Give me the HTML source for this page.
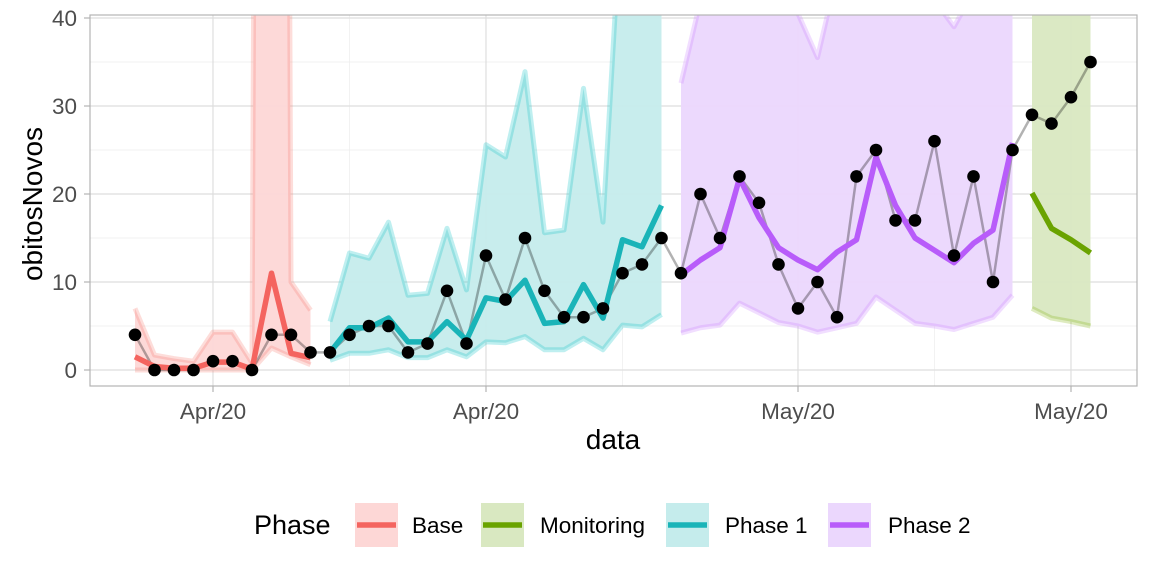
<!DOCTYPE html>
<html><head><meta charset="utf-8"><style>
body{margin:0;background:#fff;font-family:"Liberation Sans",sans-serif}
svg text{font-family:"Liberation Sans",sans-serif}
</style></head><body>
<svg id="c" width="1152" height="576" xmlns="http://www.w3.org/2000/svg">
<defs><clipPath id="clip"><rect x="90" y="15" width="1047" height="371"/></clipPath></defs>
<rect x="0" y="0" width="1152" height="576" fill="#fff"/>
<g id="grid"></g>
<g id="marks" clip-path="url(#clip)"></g>
<rect x="90" y="15" width="1047" height="371" fill="none" stroke="#b3b3b3" stroke-width="1.2"/>
<g id="axes"></g>
<text x="613" y="449" font-size="28" text-anchor="middle" fill="#000">data</text>
<text transform="translate(42,204) rotate(-90)" font-size="28" text-anchor="middle" fill="#000">obitosNovos</text>
<g id="legend">
<text x="254" y="534" font-size="27">Phase</text>
</g>
</svg>
<script>
const obs=[4,0,0,0,1,1,0,4,4,2,2,4,5,5,2,3,9,3,13,8,15,9,6,6,7,11,12,15,11,20,15,22,19,12,7,10,6,22,25,17,17,26,13,22,10,25,29,28,31,35];
const phaseNames=["Base","Monitoring","Phase 1","Phase 2"];
const phaseStart=[0,46,10,28];
const fitBase=[1.5,0.4,0.2,0.2,0.9,0.9,0.1,11,1.9,1.4];
const upBase=[7,1.7,1.3,1.0,4.3,4.3,0.8,500,10,6.8];
const loBase=[0,0,0,0,0,0,0,2.5,1.5,0.6];
const fitP1=[2.0,4.8,4.8,5.9,3.2,3.2,5.5,3.4,8.2,7.8,10.2,5.3,5.5,9.7,5.9,14.8,14.0,18.7];
const upP1=[5.5,13.3,12.7,16.8,8.5,8.7,16.1,9.1,25.6,24.2,33.9,15.6,15.9,32,16.8,55,60,70];
const loP1=[1.1,1.9,1.9,2.3,1.4,1.4,2.3,1.5,3.2,3.1,3.8,2.3,2.3,3.6,2.3,5.1,4.9,6.3];
const fitP2=[10.8,12.5,13.9,21.8,17.3,13.9,12.5,11.4,13.4,14.8,24.2,18.7,15,13.6,12.2,14.4,15.9,25.8];
const upP2=[32.6,42,50,50,50,50,40.5,35.5,45,50,50,50,50,42,39,43,50,50];
const loP2=[4.2,4.8,5.1,7.6,6.5,5.4,5.0,4.3,4.8,5.3,8.3,6.8,5.3,5.0,4.6,5.3,6.0,8.5];
const fitMon=[20.1,16.1,14.8,13.3];
const upMon=[50,50,50,50];
const loMon=[7.0,5.9,5.5,5.0];
const yTicks=[0,10,20,30,40];
const xTickIdx=[4,18,34,48];
const xTickLabels=["Apr/20","Apr/20","May/20","May/20"];
const xMinorIdx=[11,25,41];

const NS="http://www.w3.org/2000/svg";
const X=i=>135+i*19.5;
const Y=v=>370-8.8*v;
function el(t,a,p){const e=document.createElementNS(NS,t);for(const k in a)e.setAttribute(k,a[k]);p.appendChild(e);return e;}
const grid=document.getElementById('grid'),marks=document.getElementById('marks'),axes=document.getElementById('axes'),leg=document.getElementById('legend');
for(let v=5;v<40;v+=10){const l=el('line',{x1:90,x2:1137,y1:Y(v),y2:Y(v),stroke:'#ededed','stroke-width':0.7},grid);

}
xMinorIdx.forEach(i=>{const l=el('line',{x1:X(i),x2:X(i),y1:15,y2:386,stroke:'#ededed','stroke-width':0.7},grid);

});
yTicks.forEach(v=>{const l=el('line',{x1:90,x2:1137,y1:Y(v),y2:Y(v),stroke:'#dedede','stroke-width':1.2},grid);


const tk=el('line',{x1:84,x2:90,y1:Y(v),y2:Y(v),stroke:'#b3b3b3','stroke-width':1.2},axes);


const t=el('text',{x:77,y:Y(v)+8,'font-size':22.5,'text-anchor':'end',fill:'#4d4d4d'},axes);t.textContent=v;

});
xTickIdx.forEach((i,k)=>{const l=el('line',{x1:X(i),x2:X(i),y1:15,y2:386,stroke:'#dedede','stroke-width':1.2},grid);


const tk=el('line',{x1:X(i),x2:X(i),y1:386,y2:392,stroke:'#b3b3b3','stroke-width':1.2},axes);


const t=el('text',{x:X(i),y:419,'font-size':22.5,'text-anchor':'middle',fill:'#4d4d4d'},axes);t.textContent=xTickLabels[k];

});

const fills=["#fdd7d6","#d9e8c1","#c5ecec","#ebd7fd"];
const edge=["#f8766d","#7cae00","#00bfc4","#c77cff"];
const lineC=["#f4645f","#6aa300","#1ab4b8","#b85cfa"];
const phases=[[fitBase,upBase,loBase],[fitMon,upMon,loMon],[fitP1,upP1,loP1],[fitP2,upP2,loP2]];
phases.forEach(([f,u,lo],p)=>{const s=phaseStart[p];
const U=u.map((v,j)=>X(s+j)+','+Y(v)),L=lo.map((v,j)=>X(s+j)+','+Y(v));
const r=el('polygon',{points:U.concat(L.slice().reverse()).join(' '),fill:fills[p],'fill-opacity':0.95},marks);


[U,L].forEach(E=>{const e=el('polyline',{points:E.join(' '),fill:'none',stroke:edge[p],'stroke-opacity':0.25,'stroke-width':5,'stroke-linejoin':'round'},marks);

});});
const ol=el('polyline',{points:obs.map((v,i)=>X(i)+','+Y(v)).join(' '),fill:'none',stroke:'#000','stroke-opacity':0.3,'stroke-width':2.5},marks);


phases.forEach(([f],p)=>{const s=phaseStart[p];
const l=el('polyline',{points:f.map((v,j)=>X(s+j)+','+Y(v)).join(' '),fill:'none',stroke:lineC[p],'stroke-width':5.5,'stroke-linejoin':'round'},marks);

});
obs.forEach((v,i)=>{const c=el('circle',{cx:X(i),cy:Y(v),r:6.3,fill:'#000'},marks);

});

const keyX=[355,481,666,828],labX=[412,540,725,888];
phaseNames.forEach((n,p)=>{const r=el('rect',{x:keyX[p],y:503,width:43,height:44,fill:fills[p]},leg);


const l=el('line',{x1:keyX[p]+2,x2:keyX[p]+41,y1:525,y2:525,stroke:lineC[p],'stroke-width':5.5},leg);


const t=el('text',{x:labX[p],y:533,'font-size':22.5,fill:'#000'},leg);t.textContent=n;

});
</script>
</body></html>
